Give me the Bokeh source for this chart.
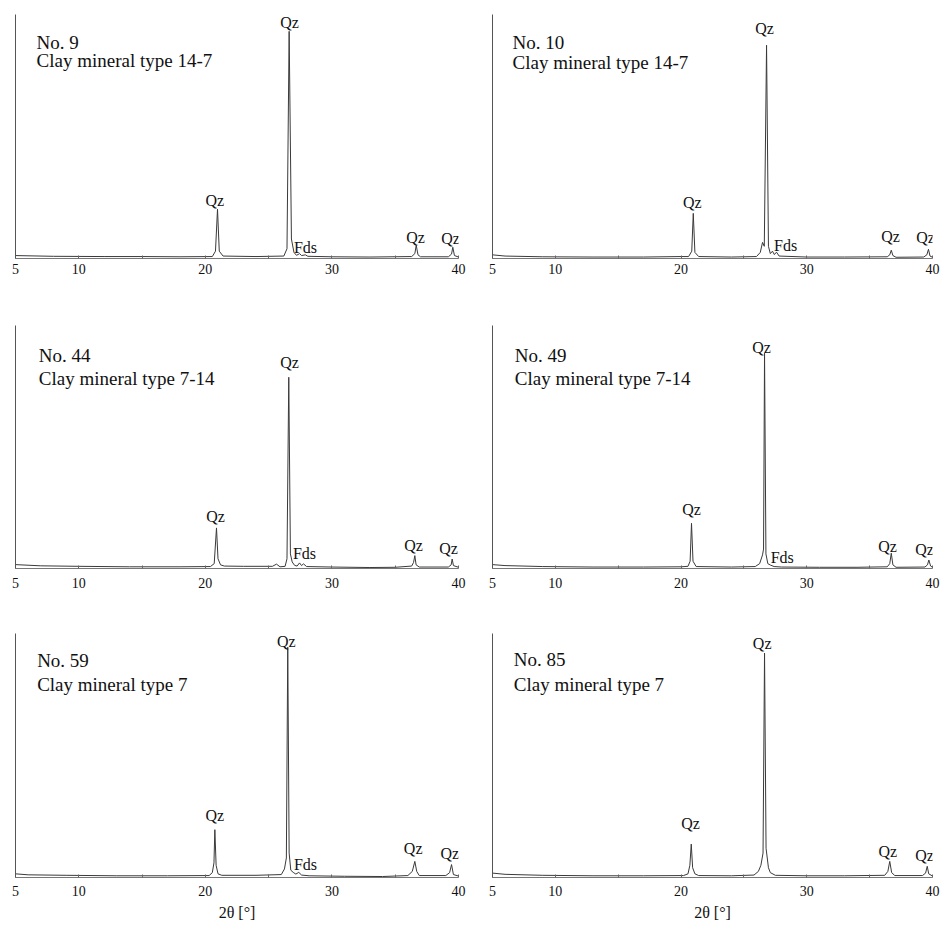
from bokeh.plotting import figure
from bokeh.layouts import gridplot
from bokeh.models import Range1d, FixedTicker
from bokeh.core.properties import value
from bokeh.embed import file_html
from bokeh.resources import INLINE

FONT = "Liberation Serif"

# ---- tick values ----
tick_values = [5, 10, 15, 20, 25, 30, 35, 40]
tick_labels = {5: "5", 10: "10", 15: "", 20: "20", 25: "", 30: "30", 35: "", 40: "40"}
x_label = "2θ [°]"

# ---- No. 9 ----
title_9 = ["No. 9", "Clay mineral type 14-7"]
tt_9 = [5.0, 8.0, 12.0, 15.0, 18.0, 20.55, 20.8, 20.96, 21.1, 21.4, 24.0, 26.2, 26.45, 26.62, 26.8, 27.0,
        27.2, 27.45, 27.6, 27.9, 28.1, 30.0, 33.0, 36.3, 36.55, 36.66, 36.8, 37.0, 39.2, 39.45, 39.55, 39.68, 40.0]
int_9 = [1.2, 0.9, 0.8, 0.8, 0.7, 0.8, 3.0, 20.2, 3.0, 1.0, 0.8, 1.0, 4.0, 93.1, 8.0, 2.5,
         1.3, 2.0, 1.2, 1.5, 0.9, 0.7, 0.6, 0.8, 2.0, 5.4, 1.5, 0.7, 0.7, 1.8, 4.6, 1.2, 0.6]
lbl_x_9 = [20.75, 26.65, 27.91, 36.6, 39.37]
lbl_y_9 = [23.8, 96.6, 4.5, 8.6, 8.2]
lbl_t_9 = ["Qz", "Qz", "Fds", "Qz", "Qz"]

# ---- No. 10 ----
title_10 = ["No. 10", "Clay mineral type 14-7"]
tt_10 = [5.0, 6.0, 9.0, 13.0, 17.0, 20.0, 20.6, 20.85, 20.97, 21.1, 21.4, 24.0, 26.0, 26.3, 26.48, 26.62,
         26.8, 26.95, 27.1, 27.27, 27.42, 27.59, 27.8, 30.0, 33.0, 36.4, 36.6, 36.72, 36.85, 37.1, 39.3,
         39.55, 39.68, 39.8, 40.0]
int_10 = [1.5, 1.0, 0.7, 0.6, 0.6, 0.8, 0.8, 3.0, 18.5, 2.5, 0.8, 0.6, 0.8, 2.5, 6.6, 5.0,
          87.4, 5.0, 2.0, 3.0, 1.6, 2.6, 1.0, 0.6, 0.6, 0.7, 1.5, 3.4, 1.2, 0.5, 0.6,
          1.5, 3.8, 1.0, 0.5]
lbl_x_10 = [20.89, 26.64, 28.31, 36.66, 39.44]
lbl_y_10 = [23.0, 94.3, 5.2, 9.0, 8.6]
lbl_t_10 = ["Qz", "Qz", "Fds", "Qz", "Qz"]

# ---- No. 44 ----
title_44 = ["No. 44", "Clay mineral type 7-14"]
tt_44 = [5.0, 7.0, 10.0, 14.0, 18.0, 20.4, 20.7, 20.88, 21.0, 21.2, 21.5, 23.0, 25.3, 25.62, 25.9, 26.3,
         26.45, 26.59, 26.72, 26.86, 27.05, 27.25, 27.44, 27.6, 27.75, 28.0, 30.0, 33.0, 35.0, 36.3,
         36.45, 36.55, 36.65, 36.9, 39.2, 39.42, 39.5, 39.6, 40.0]
int_44 = [1.6, 1.1, 0.9, 0.7, 0.7, 0.8, 2.0, 16.7, 4.0, 1.5, 1.0, 0.9, 0.9, 1.8, 0.7, 0.9,
          4.0, 78.7, 6.0, 2.7, 1.3, 1.0, 2.3, 1.2, 1.9, 0.8, 0.6, 0.4, 0.5, 1.0,
          2.5, 5.3, 1.5, 0.6, 0.6, 1.5, 3.9, 1.2, 0.5]
lbl_x_44 = [20.80, 26.65, 27.83, 36.45, 39.21]
lbl_y_44 = [21.4, 84.9, 6.3, 9.5, 8.2]
lbl_t_44 = ["Qz", "Qz", "Fds", "Qz", "Qz"]

# ---- No. 49 ----
title_49 = ["No. 49", "Clay mineral type 7-14"]
tt_49 = [5.0, 6.0, 9.0, 13.0, 17.0, 20.0, 20.55, 20.72, 20.83, 20.95, 21.2, 24.0, 25.9, 26.25, 26.48,
         26.56, 26.64, 26.75, 26.9, 27.11, 27.4, 28.0, 31.0, 34.0, 36.4, 36.6, 36.72, 36.85, 37.1, 39.4,
         39.6, 39.71, 39.85, 40.0]
int_49 = [1.6, 1.2, 0.8, 0.6, 0.6, 0.7, 0.9, 3.0, 18.6, 3.0, 0.8, 0.6, 0.8, 2.0, 5.6,
          8.0, 88.6, 6.0, 2.0, 1.4, 0.8, 0.6, 0.5, 0.5, 0.7, 2.0, 6.3, 1.5, 0.5, 0.6,
          1.5, 3.5, 1.0, 0.5]
lbl_x_49 = [20.83, 26.40, 28.05, 36.42, 39.37]
lbl_y_49 = [24.3, 91.1, 4.5, 9.2, 7.8]
lbl_t_49 = ["Qz", "Qz", "Fds", "Qz", "Qz"]

# ---- No. 59 ----
title_59 = ["No. 59", "Clay mineral type 7"]
tt_59 = [5.0, 6.0, 9.0, 13.0, 17.0, 20.3, 20.55, 20.68, 20.75, 20.85, 21.0, 21.3, 24.0, 26.0, 26.25,
         26.4, 26.51, 26.62, 26.75, 26.94, 27.15, 27.38, 27.6, 28.2, 31.0, 34.0, 36.0, 36.35, 36.55,
         36.7, 36.9, 39.0, 39.3, 39.45, 39.6, 40.0]
int_59 = [1.5, 1.1, 0.9, 0.7, 0.7, 0.8, 2.0, 6.0, 19.6, 5.0, 1.5, 0.9, 0.9, 1.2, 3.5,
          8.0, 94.4, 10.0, 3.0, 2.1, 1.4, 2.1, 1.0, 0.7, 0.5, 0.4, 0.8, 2.5, 6.6,
          2.5, 0.8, 0.8, 2.0, 5.3, 1.2, 0.6]
lbl_x_59 = [20.75, 26.39, 27.91, 36.42, 39.31]
lbl_y_59 = [25.4, 96.9, 5.3, 11.8, 9.7]
lbl_t_59 = ["Qz", "Qz", "Fds", "Qz", "Qz"]

# ---- No. 85 ----
title_85 = ["No. 85", "Clay mineral type 7"]
tt_85 = [5.0, 6.0, 9.0, 13.0, 17.0, 20.2, 20.55, 20.7, 20.81, 20.92, 21.1, 21.4, 24.0, 25.8, 26.15,
         26.35, 26.52, 26.64, 26.76, 26.95, 27.1, 27.5, 30.0, 33.0, 36.2, 36.45, 36.6, 36.75, 37.0,
         39.2, 39.45, 39.58, 39.7, 40.0]
int_85 = [1.8, 1.3, 0.9, 0.7, 0.7, 0.8, 1.5, 5.0, 13.7, 4.0, 1.5, 0.8, 0.7, 1.0, 2.5,
          5.0, 10.0, 92.0, 12.0, 4.0, 2.0, 0.9, 0.7, 0.7, 0.9, 2.5, 6.6, 2.0, 0.8,
          0.8, 1.8, 4.6, 1.5, 0.6]
lbl_x_85 = [20.75, 26.45, 36.45, 39.37]
lbl_y_85 = [22.1, 96.0, 10.7, 8.9]
lbl_t_85 = ["Qz", "Qz", "Qz", "Qz"]

# title anchor (data units) per panel
title_pos = {
    "9": (6.66, 88.5, 81.1), "10": (6.6, 88.5, 80.5),
    "44": (6.84, 87.7, 78.0), "49": (6.77, 87.8, 78.2),
    "59": (6.71, 88.9, 79.1), "85": (6.69, 89.3, 79.2),
}

panels = [
    ("9", title_9, tt_9, int_9, lbl_x_9, lbl_y_9, lbl_t_9),
    ("10", title_10, tt_10, int_10, lbl_x_10, lbl_y_10, lbl_t_10),
    ("44", title_44, tt_44, int_44, lbl_x_44, lbl_y_44, lbl_t_44),
    ("49", title_49, tt_49, int_49, lbl_x_49, lbl_y_49, lbl_t_49),
    ("59", title_59, tt_59, int_59, lbl_x_59, lbl_y_59, lbl_t_59),
    ("85", title_85, tt_85, int_85, lbl_x_85, lbl_y_85, lbl_t_85),
]

# layout per row: (height, border_top, border_bottom, tick standoff)
row_cfg = [(300, 14, 42, 5), (308, 25, 40, 9), (318, 25, 49, 8)]
# per column: (width, border_left, border_right)
col_cfg = [(468, 15, 10), (472, 24, 8)]

figs = []
for i, (key, title, tt, inten, lx, ly, lt) in enumerate(panels):
    r, c = divmod(i, 2)
    h, bt, bb, so = row_cfg[r]
    w, bl, br = col_cfg[c]
    p = figure(width=w, height=h, output_backend="svg", toolbar_location=None,
               x_range=Range1d(5, 40), y_range=Range1d(0, 100),
               min_border_left=bl, min_border_right=br, min_border_top=bt, min_border_bottom=bb)
    p.outline_line_color = None
    p.grid.visible = False
    p.background_fill_color = "white"
    p.border_fill_color = "white"

    # x axis
    xa = p.xaxis[0]
    xa.ticker = FixedTicker(ticks=tick_values)
    xa.major_label_overrides = tick_labels
    xa.major_label_text_font = FONT
    xa.major_label_text_font_size = "14px"
    xa.major_label_text_color = "#111111"
    xa.major_label_standoff = so
    xa.major_tick_in = 3
    xa.major_tick_out = 0
    xa.major_tick_line_color = "#666666"
    xa.minor_tick_line_color = None
    xa.axis_line_color = "#777777"
    xa.axis_line_width = 1
    if r == 2:
        xa.axis_label = x_label
        xa.axis_label_text_font = FONT
        xa.axis_label_text_font_size = "16px"
        xa.axis_label_text_font_style = "normal"
        xa.axis_label_text_color = "#111111"
        xa.axis_label_standoff = 5

    # y axis: plain line only
    ya = p.yaxis[0]
    ya.ticker = FixedTicker(ticks=[])
    ya.major_tick_out = 0
    ya.major_tick_in = 0
    ya.minor_tick_line_color = None
    ya.major_label_standoff = 0
    ya.major_label_text_font_size = "0px"
    ya.axis_line_color = "#555555"
    ya.axis_line_width = 1

    # trace
    p.line(tt, inten, line_color="#3a3a3a", line_width=1)

    # peak labels
    p.text(x=lx, y=ly, text=lt, text_font=value(FONT), text_font_size="16px",
           text_align="center", text_baseline="alphabetic", text_color="#111111")

    # sample title
    tx, ty1, ty2 = title_pos[key]
    p.text(x=[tx, tx], y=[ty1, ty2], text=title, text_font=value(FONT), text_font_size="19px",
           text_align="left", text_baseline="alphabetic", text_color="#111111")
    figs.append(p)

grid = gridplot([figs[0:2], figs[2:4], figs[4:6]], toolbar_location=None)

open("out.html", "w").write(file_html(grid, INLINE))
